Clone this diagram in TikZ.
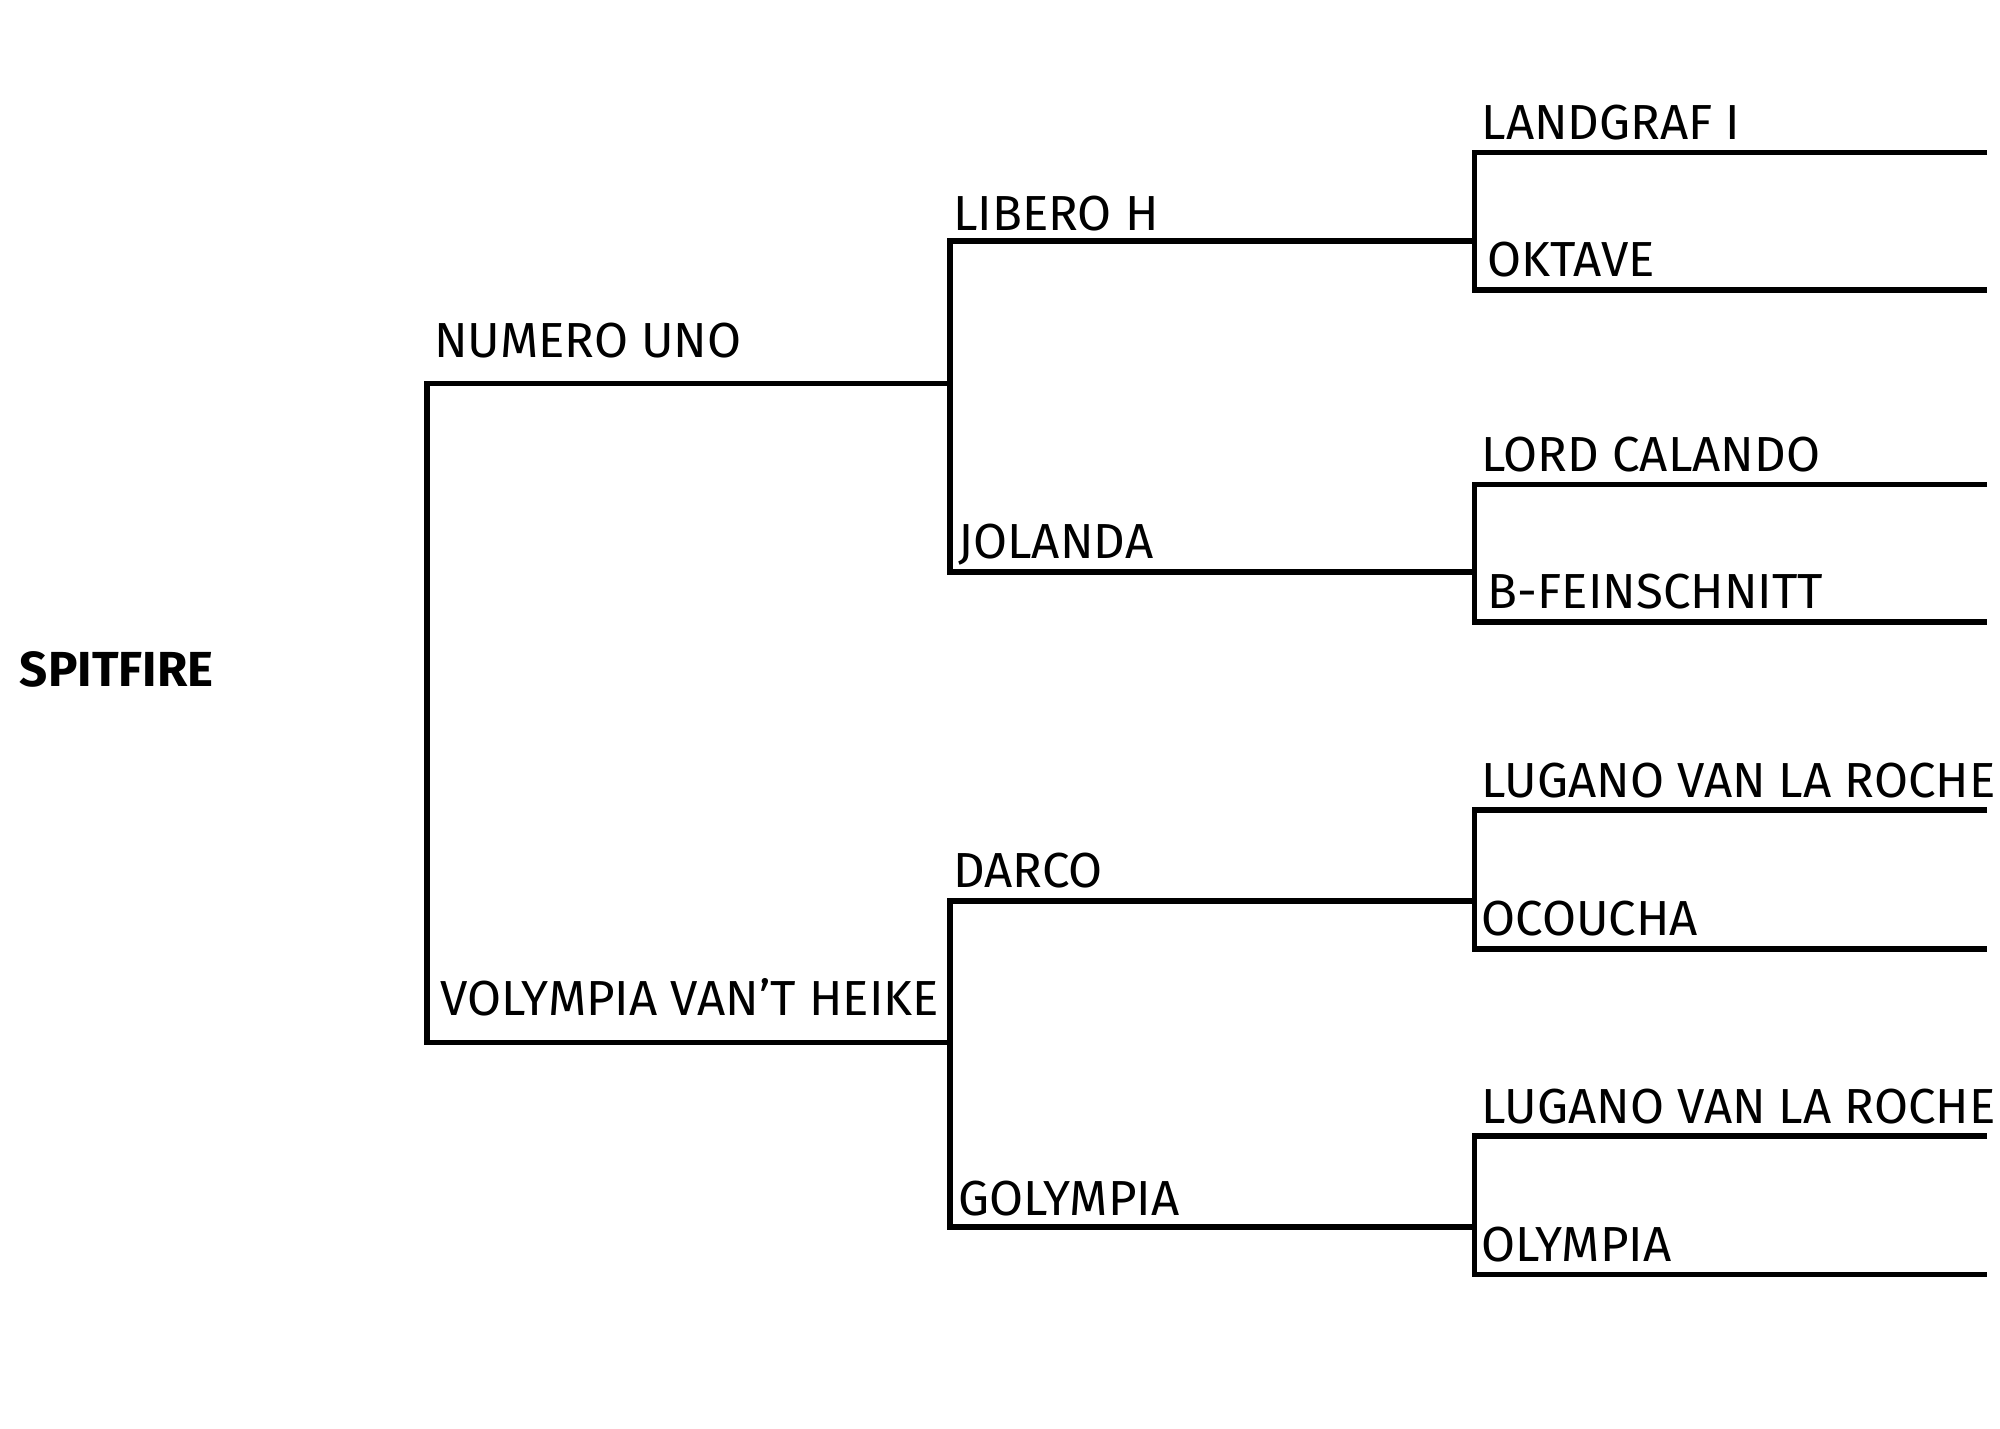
\documentclass[tikz,border=0pt]{standalone}
\usepackage{fontspec}
\setmainfont{Fira Sans}
\usetikzlibrary{positioning,calc}
\tikzset{
  horse/.style={anchor=base west,inner sep=0pt,font=\fontsize{14}{16}\selectfont},
  line/.style={line width=1.6pt}
}
\begin{document}
\begin{tikzpicture}[x=0.01282cm,y=-0.01282cm]
  \useasboundingbox (0,0) rectangle (1560,1114);
  % root
  \node[horse,anchor=west,font=\fontsize{14}{16}\selectfont\bfseries] (spit) at (15,522) {SPITFIRE};
  % generation 1
  \coordinate (g1t) at (333,299); \coordinate (g1b) at (333,813);
  \coordinate (g1te) at (741,299); \coordinate (g1be) at (741,813);
  \draw[line] (g1te) -- (g1t) -- (g1b) -- (g1be);
  \node[horse] (numero) at (338,279) {NUMERO UNO};
  \node[horse] (volympia) at (343,792) {VOLYMPIA VAN'T HEIKE};
  % generation 2
  \foreach \a/\b/\na/\nb/\ya/\yb in {188/446/LIBERO H/JOLANDA/180/436, 703/957/DARCO/GOLYMPIA/692/948}{
    \draw[line] (1150,\a) -- (741,\a) -- (741,\b) -- (1150,\b);
    \node[horse] at (743,\ya) {\na};
    \node[horse] at (747,\yb) {\nb};
  }
  % generation 3
  \foreach \a/\b/\na/\nb/\xb in {119/226/LANDGRAF I/OKTAVE/1160, 378/485/LORD CALANDO/B-FEINSCHNITT/1160,
      632/740/LUGANO VAN LA ROCHE/OCOUCHA/1155, 886/994/LUGANO VAN LA ROCHE/OLYMPIA/1155}{
    \draw[line] (1550,\a) -- (1150,\a) -- (1150,\b) -- (1550,\b);
    \node[horse] at (1155,\a-10) {\na};
    \node[horse] at (\xb,\b-10) {\nb};
  }
\end{tikzpicture}
\end{document}
